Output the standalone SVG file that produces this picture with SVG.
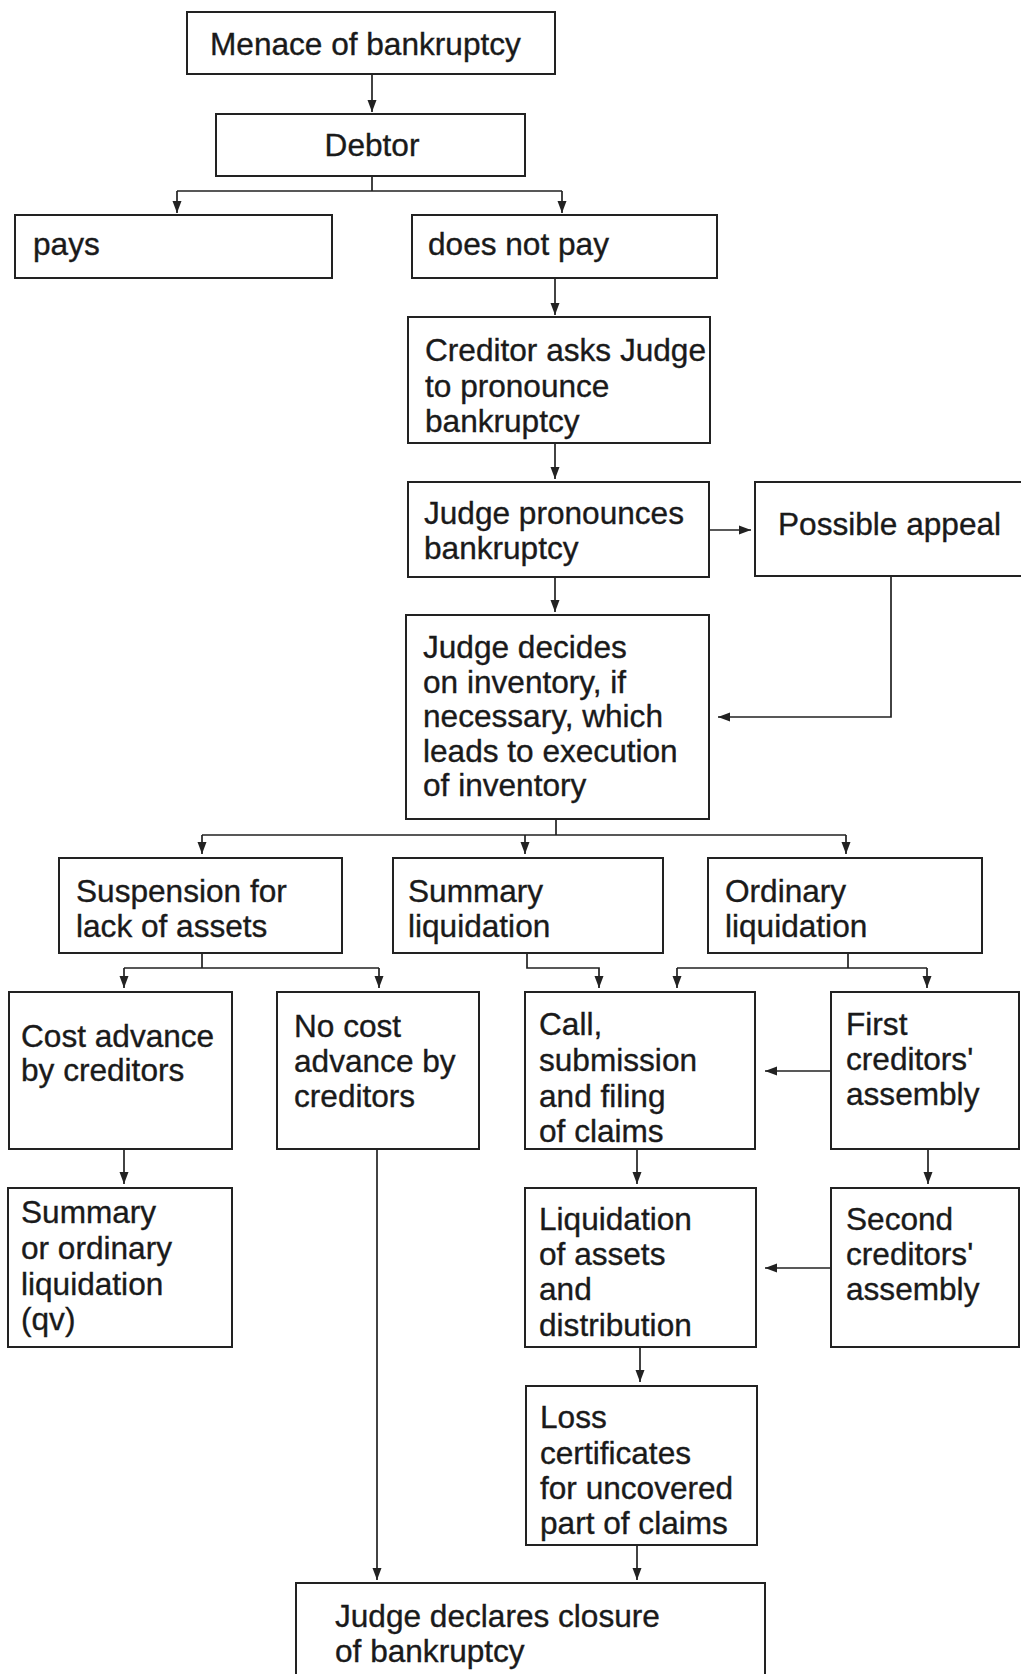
<svg xmlns="http://www.w3.org/2000/svg" width="1021" height="1674" viewBox="0 0 1021 1674">
<defs>
<marker id="ah" viewBox="0 0 12 10" refX="12" refY="5" markerWidth="12" markerHeight="10" markerUnits="userSpaceOnUse" orient="auto">
<path d="M0,0.5 L12,5 L0,9.5 z" fill="#222"/>
</marker>
</defs>
<style>
.box{fill:#fff;stroke:#222;stroke-width:2}
.t{font-family:"Liberation Sans",Arial,sans-serif;font-size:31.6px;fill:#1a1a1a;stroke:#1a1a1a;stroke-width:0.35}
.c{fill:none;stroke:#222;stroke-width:1.7}
.a{fill:none;stroke:#222;stroke-width:1.7;marker-end:url(#ah)}
</style>
<rect width="1021" height="1674" fill="#fff"/>
<g id="connectors">
<path class="a" d="M372,74 V112"/>
<path class="c" d="M372,176 V191 M177,191 H562"/>
<path class="a" d="M177,191 V213"/>
<path class="a" d="M562,191 V213"/>
<path class="a" d="M555,278 V315"/>
<path class="a" d="M555,443 V479"/>
<path class="a" d="M709,530 H751"/>
<path class="a" d="M555,577 V612"/>
<path class="a" d="M891,576 V717 H718"/>
<path class="c" d="M556,819 V835 M202,835 H846"/>
<path class="a" d="M202,835 V854"/>
<path class="a" d="M525,835 V854"/>
<path class="a" d="M846,835 V854"/>
<path class="c" d="M202,953 V968 M124,968 H379"/>
<path class="a" d="M124,968 V988"/>
<path class="a" d="M379,968 V988"/>
<path class="a" d="M527,953 V968 H599 V988"/>
<path class="c" d="M848,953 V968 M677,968 H927"/>
<path class="a" d="M677,968 V988"/>
<path class="a" d="M927,968 V988"/>
<path class="a" d="M831,1071 H765"/>
<path class="a" d="M124,1149 V1184"/>
<path class="a" d="M637,1149 V1184"/>
<path class="a" d="M928,1149 V1184"/>
<path class="a" d="M831,1268 H765"/>
<path class="a" d="M640,1347 V1382"/>
<path class="a" d="M377,1149 V1580"/>
<path class="a" d="M637,1545 V1580"/>
</g>
<g id="n-menace"><rect class="box" x="187" y="12" width="368" height="62"/><text class="t" x="210" y="55">Menace of bankruptcy</text></g>
<g id="n-debtor"><rect class="box" x="216" y="114" width="309" height="62"/><text class="t" x="372" y="156" text-anchor="middle">Debtor</text></g>
<g id="n-pays"><rect class="box" x="15" y="215" width="317" height="63"/><text class="t" x="33" y="255">pays</text></g>
<g id="n-notpay"><rect class="box" x="412" y="215" width="305" height="63"/><text class="t" x="428" y="255">does not pay</text></g>
<g id="n-creditor"><rect class="box" x="408" y="317" width="302" height="126"/><text class="t" x="425" y="361">Creditor asks Judge</text><text class="t" x="425" y="397">to pronounce</text><text class="t" x="425" y="432">bankruptcy</text></g>
<g id="n-pronounces"><rect class="box" x="408" y="482" width="301" height="95"/><text class="t" x="424" y="524">Judge pronounces</text><text class="t" x="424" y="559">bankruptcy</text></g>
<g id="n-appeal"><rect class="box" x="755" y="482" width="270" height="94"/><text class="t" x="778" y="535">Possible appeal</text></g>
<g id="n-decides"><rect class="box" x="406" y="615" width="303" height="204"/><text class="t" x="423" y="658">Judge decides</text><text class="t" x="423" y="693">on inventory, if</text><text class="t" x="423" y="727">necessary, which</text><text class="t" x="423" y="762">leads to execution</text><text class="t" x="423" y="796">of inventory</text></g>
<g id="n-suspension"><rect class="box" x="59" y="858" width="283" height="95"/><text class="t" x="76" y="902">Suspension for</text><text class="t" x="76" y="937">lack of assets</text></g>
<g id="n-summary"><rect class="box" x="393" y="858" width="270" height="95"/><text class="t" x="408" y="902">Summary</text><text class="t" x="408" y="937">liquidation</text></g>
<g id="n-ordinary"><rect class="box" x="708" y="858" width="274" height="95"/><text class="t" x="725" y="902">Ordinary</text><text class="t" x="725" y="937">liquidation</text></g>
<g id="n-costadv"><rect class="box" x="9" y="992" width="223" height="157"/><text class="t" x="21" y="1047">Cost advance</text><text class="t" x="21" y="1081">by creditors</text></g>
<g id="n-nocost"><rect class="box" x="277" y="992" width="202" height="157"/><text class="t" x="294" y="1037">No cost</text><text class="t" x="294" y="1072">advance by</text><text class="t" x="294" y="1107">creditors</text></g>
<g id="n-call"><rect class="box" x="525" y="992" width="230" height="157"/><text class="t" x="539" y="1035">Call,</text><text class="t" x="539" y="1071">submission</text><text class="t" x="539" y="1107">and filing</text><text class="t" x="539" y="1142">of claims</text></g>
<g id="n-first"><rect class="box" x="831" y="992" width="188" height="157"/><text class="t" x="846" y="1035">First</text><text class="t" x="846" y="1070">creditors'</text><text class="t" x="846" y="1105">assembly</text></g>
<g id="n-sumord"><rect class="box" x="8" y="1188" width="224" height="159"/><text class="t" x="21" y="1223">Summary</text><text class="t" x="21" y="1259">or ordinary</text><text class="t" x="21" y="1295">liquidation</text><text class="t" x="21" y="1330">(qv)</text></g>
<g id="n-liquidation"><rect class="box" x="525" y="1188" width="231" height="159"/><text class="t" x="539" y="1230">Liquidation</text><text class="t" x="539" y="1265">of assets</text><text class="t" x="539" y="1300">and</text><text class="t" x="539" y="1336">distribution</text></g>
<g id="n-second"><rect class="box" x="831" y="1188" width="188" height="159"/><text class="t" x="846" y="1230">Second</text><text class="t" x="846" y="1265">creditors'</text><text class="t" x="846" y="1300">assembly</text></g>
<g id="n-loss"><rect class="box" x="526" y="1386" width="231" height="159"/><text class="t" x="540" y="1428">Loss</text><text class="t" x="540" y="1464">certificates</text><text class="t" x="540" y="1499">for uncovered</text><text class="t" x="540" y="1534">part of claims</text></g>
<g id="n-closure"><rect class="box" x="296" y="1583" width="469" height="100"/><text class="t" x="335" y="1627">Judge declares closure</text><text class="t" x="335" y="1662">of bankruptcy</text></g>
</svg>
